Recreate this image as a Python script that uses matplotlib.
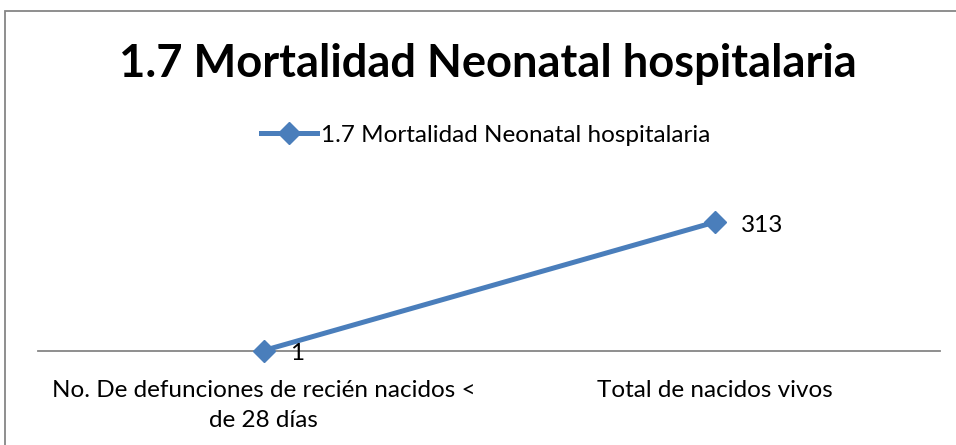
import matplotlib
matplotlib.use("Agg")
import matplotlib.pyplot as plt
from matplotlib.patches import Rectangle
from matplotlib.lines import Line2D

categories = ["No. De defunciones de recién nacidos <\nde 28 días", "Total de nacidos vivos"]
values = [1, 313]
series_name = "1.7 Mortalidad Neonatal hospitalaria"
title = "1.7 Mortalidad Neonatal hospitalaria"

W, H = 956, 445
FONT = "Lato"
plt.rcParams['font.family'] = [FONT, 'DejaVu Sans']
fig = plt.figure(figsize=(W / 100, H / 100), dpi=100)

def fx(px):
    return px / W

def fy(py):
    return 1 - py / H

# outer chart border
fig.patches.append(Rectangle((fx(5), fy(460)), fx(960), 460 / H - 11 / H,
                             transform=fig.transFigure, fill=False,
                             edgecolor="#868686", linewidth=1.3))

color = "#4A7EBB"
ax = fig.add_axes([fx(38), fy(351), fx(940) - fx(38), fy(207) - fy(351)])
x = list(range(len(categories)))
ax.plot(x, values, color=color, linewidth=3.6, marker="D", markersize=11,
        markeredgecolor=color, markerfacecolor=color, clip_on=False, zorder=3)
ax.set_xlim(-0.5, len(categories) - 0.5)
ax.set_ylim(0, 350)
ax.set_yticks([])
ax.set_xticks(x)
ax.set_xticklabels(categories, fontsize=17.5, color="black", linespacing=1.5)
ax.tick_params(axis="x", length=0, pad=21)
for s in ["top", "right", "left"]:
    ax.spines[s].set_visible(False)
ax.spines["bottom"].set_color("#868686")
ax.spines["bottom"].set_linewidth(1.3)
ax.patch.set_alpha(0)

for xi, v in zip(x, values):
    ax.annotate(str(v), (xi, v), xytext=(19, -2), textcoords="offset points",
                ha="left", va="center", fontsize=17.5, color="black")

fig.text(fx(488), fy(64), title, ha="center", va="center", fontsize=32.6,
         fontweight="bold", color="black")

handle = Line2D([], [], color=color, linewidth=3.6, marker="D", markersize=11)
fig.legend([handle], [series_name], loc="center left", bbox_to_anchor=(fx(261), fy(135)),
           frameon=False, fontsize=17.5, handlelength=2.3, handletextpad=0.15,
           borderpad=0, borderaxespad=0)

fig.savefig("out.png", dpi=100, facecolor="white")
